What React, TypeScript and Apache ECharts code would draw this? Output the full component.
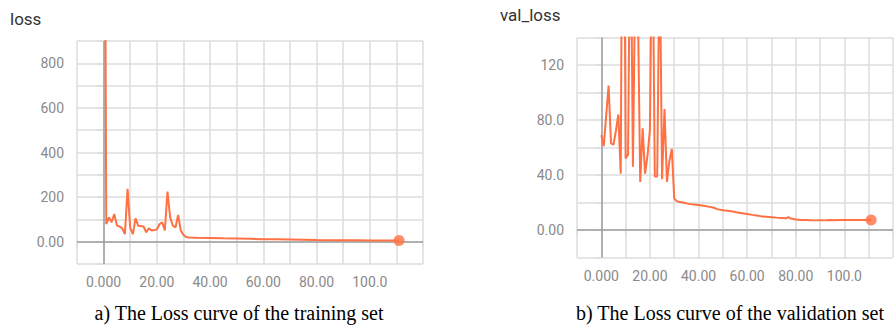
import React, { useEffect, useRef } from "react";
import * as echarts from "echarts";

// ---- data ----
const trainSteps = [
  0, 1, 2, 3, 4, 5, 6, 7, 8, 9, 10, 11, 12, 13, 14, 15, 16, 17, 18, 19, 20, 21, 22, 23, 24, 25, 26, 27, 28, 29, 30, 31, 32,
  35, 40, 45, 50, 55, 60, 65, 70, 75, 80, 85, 90, 95, 100, 105, 111,
];
const trainLoss = [
  3000, 79, 109, 87, 124, 72, 68, 60, 34, 237, 62, 34, 105, 72, 70, 68, 42, 60, 50, 52, 55, 78, 87, 50, 225, 109, 72, 64, 120, 50, 30, 21, 19,
  17.5, 16.5, 15, 14, 13, 11.5, 10.5, 9.5, 8.5, 7.5, 7, 6.5, 6, 5.5, 5.2, 5,
];

const valSteps = [
  0, 1, 2, 3, 4, 5, 6, 7, 8, 9, 10, 11, 12, 13, 14, 15, 16, 17, 18, 19, 20, 21, 22, 23, 24, 25, 26, 27, 28, 29, 30, 31, 32,
  34, 36, 38, 40, 42, 44, 46, 48, 50, 52, 54, 56, 58, 60, 62, 64, 66, 68, 70, 72, 74, 76, 77, 78, 80, 82, 84, 86, 88,
  90, 92, 94, 96, 98, 100, 102, 104, 106, 108, 111,
];
const valLoss = [
  69, 61, 83, 105, 63, 62, 72, 84, 41, 400, 52, 55, 250, 46, 190, 170, 35, 74, 41, 54, 73, 240, 39, 39, 210, 37, 88, 35, 50, 59, 23, 21, 20.5,
  19.8, 19.0, 18.6, 18.2, 17.6, 17.0, 16.4, 15.0, 14.4, 14.0, 13.4, 12.8, 12.2, 11.6, 11.0, 10.5, 9.9, 9.6, 9.3, 9.0, 8.8, 8.5, 9.4, 8.3, 7.6, 7.3, 7.2, 7.1, 7.0,
  7.1, 7.0, 7.2, 7.1, 7.2, 7.2, 7.3, 7.2, 7.3, 7.3, 7.3,
];

const xTickLabels: Record<number, string> = { 0: "0.000", 20: "20.00", 40: "40.00", 60: "60.00", 80: "80.00", 100: "100.0" };
const trainYLabels: Record<number, string> = { 0: "0.00", 200: "200", 400: "400", 600: "600", 800: "800" };
const valYLabels: Record<number, string> = { 0: "0.00", 40: "40.0", 80: "80.0", 120: "120" };

const titles = ["loss", "val_loss"];
const captions = ["a) The Loss curve of the training set", "b) The Loss curve of the validation set"];

const ORANGE = "#ff7043";
const GRIDC = "#dddddd";
const ZEROC = "#9e9e9e";
const LABELC = "#8a8a8a";

function pairs(xs: number[], ys: number[]) {
  return xs.map((x, i) => [x, ys[i]]);
}

function xAxis(gridIndex: number) {
  return {
    type: "value",
    gridIndex,
    min: -10,
    max: 120,
    interval: 10,
    axisLine: { show: false },
    axisTick: { show: true, length: 5, lineStyle: { color: GRIDC, width: 1.5 } },
    splitLine: { show: true, lineStyle: { color: GRIDC, width: 1.5 } },
    axisLabel: {
      margin: 11,
      color: LABELC,
      fontFamily: "Roboto",
      fontSize: 14,
      formatter: (v: number) => xTickLabels[v] ?? "",
    },
  };
}

function yAxis(gridIndex: number, min: number, max: number, interval: number, labels: Record<number, string>) {
  return {
    type: "value",
    gridIndex,
    min,
    max,
    interval,
    axisLine: { show: false },
    axisTick: { show: true, length: 6, lineStyle: { color: GRIDC, width: 1.5 } },
    splitLine: { show: true, lineStyle: { color: GRIDC, width: 1.5 } },
    axisLabel: {
      margin: 13,
      color: LABELC,
      fontFamily: "Roboto",
      fontSize: 14,
      formatter: (v: number) => labels[v] ?? "",
    },
  };
}

function lineSeries(idx: number, data: number[][]) {
  const last = data[data.length - 1];
  return [
    {
      type: "line",
      xAxisIndex: idx,
      yAxisIndex: idx,
      data,
      showSymbol: false,
      symbol: "none",
      lineStyle: { color: ORANGE, width: 2 },
      z: 3,
      markLine: {
        silent: true,
        symbol: ["none", "none"],
        z: 2,
        label: { show: false },
        lineStyle: { color: ZEROC, width: 1.5, type: "solid" },
        data: [{ yAxis: 0 }, { xAxis: 0 }],
      },
    },
    {
      type: "scatter",
      xAxisIndex: idx,
      yAxisIndex: idx,
      data: [last],
      symbol: "circle",
      symbolSize: 11,
      itemStyle: { color: ORANGE },
      z: 4,
    },
  ];
}

export default function App() {
  const ref = useRef<HTMLDivElement>(null);
  useEffect(() => {
    if (!ref.current) return;
    const chart = echarts.init(ref.current, undefined, { renderer: "svg" });
    chart.setOption({
      animation: false,
      backgroundColor: "#ffffff",
      grid: [
        { left: 77, top: 41, width: 346, height: 223 },
        { left: 577, top: 37.5, width: 325, height: 220 },
      ],
      xAxis: [xAxis(0), xAxis(1)],
      yAxis: [yAxis(0, -100, 900, 100, trainYLabels), yAxis(1, -20, 140, 20, valYLabels)],
      series: [...lineSeries(0, pairs(trainSteps, trainLoss)), ...lineSeries(1, pairs(valSteps, valLoss))],
      graphic: [
        {
          type: "text",
          x: 10,
          y: 19,
          style: { text: titles[0], fill: "#333333", font: "17px Roboto", textVerticalAlign: "middle" },
        },
        {
          type: "text",
          x: 500,
          y: 15,
          style: { text: titles[1], fill: "#333333", font: "17px Roboto", textVerticalAlign: "middle" },
        },
        {
          type: "text",
          x: 239,
          y: 313,
          style: { text: captions[0], fill: "#000000", font: "20px 'Liberation Serif'", textAlign: "center", textVerticalAlign: "middle" },
        },
        {
          type: "text",
          x: 730,
          y: 313,
          style: { text: captions[1], fill: "#000000", font: "20px 'Liberation Serif'", textAlign: "center", textVerticalAlign: "middle" },
        },
      ],
    });
    return () => chart.dispose();
  }, []);
  return <div ref={ref} style={{ position: "absolute", left: 0, top: 0, width: 896, height: 328 }} />;
}
